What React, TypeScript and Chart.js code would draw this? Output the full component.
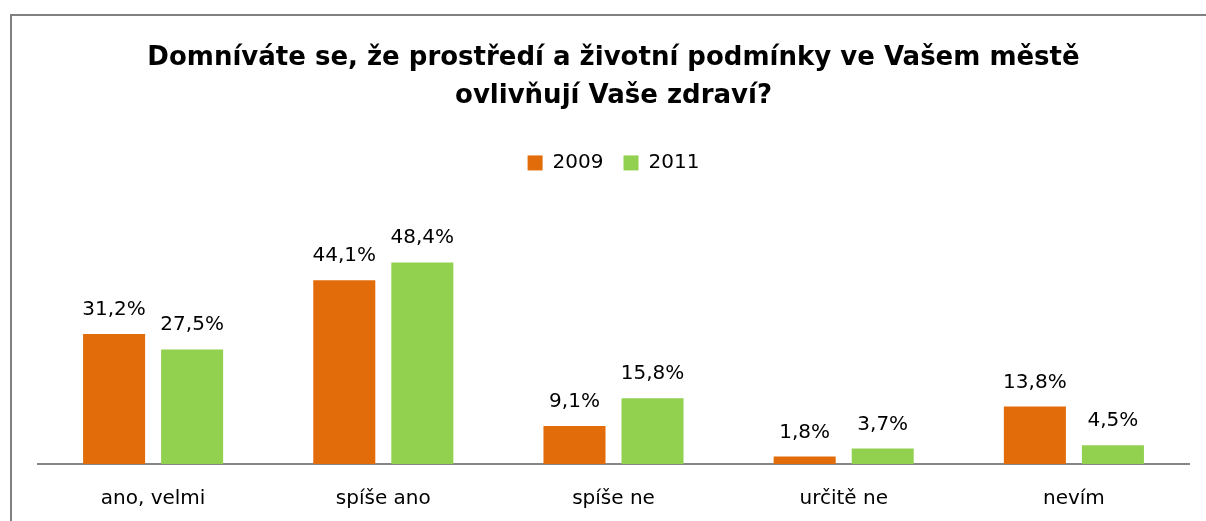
import { useEffect, useRef } from "react";
import { Chart, registerables } from "chart.js";

Chart.register(...registerables);

const categories = ["ano, velmi", "spíše ano", "spíše ne", "určitě ne", "nevím"];
const seriesNames = ["2009", "2011"];
const values2009 = [31.2, 44.1, 9.1, 1.8, 13.8];
const values2011 = [27.5, 48.4, 15.8, 3.7, 4.5];
const titleLines = [
  "Domníváte se, že prostředí a životní podmínky ve Vašem městě",
  "ovlivňují Vaše zdraví?",
];
const colors = ["#E36C0A", "#92D050"];

const FONT = "'DejaVu Sans', sans-serif";

const dataLabelPlugin = {
  id: "dataLabels",
  afterDatasetsDraw(chart: any) {
    const ctx = chart.ctx;
    ctx.save();
    ctx.font = `20px ${FONT}`;
    ctx.fillStyle = "#000000";
    ctx.textAlign = "center";
    ctx.textBaseline = "alphabetic";
    chart.data.datasets.forEach((ds: any, i: number) => {
      const meta = chart.getDatasetMeta(i);
      meta.data.forEach((bar: any, j: number) => {
        const v = ds.data[j] as number;
        ctx.fillText(v.toFixed(1).replace(".", ",") + "%", bar.x, bar.y - 19);
      });
    });
    ctx.restore();
  },
};

export default function App() {
  const ref = useRef<HTMLCanvasElement>(null);

  useEffect(() => {
    if (!ref.current) return;
    const chart = new Chart(ref.current, {
      type: "bar",
      data: {
        labels: categories,
        datasets: [
          {
            label: seriesNames[0],
            data: values2009,
            backgroundColor: colors[0],
            borderWidth: 0,
            categoryPercentage: 0.678,
            barPercentage: 0.795,
          },
          {
            label: seriesNames[1],
            data: values2011,
            backgroundColor: colors[1],
            borderWidth: 0,
            categoryPercentage: 0.678,
            barPercentage: 0.795,
          },
        ],
      },
      options: {
        responsive: false,
        animation: false,
        layout: { padding: { left: 26, right: 25, top: 0, bottom: 9 } },
        plugins: {
          title: {
            display: true,
            text: titleLines,
            color: "#000000",
            font: { family: FONT, size: 26, weight: "bold", lineHeight: 1.46 },
            padding: { top: 23, bottom: 18 },
          },
          legend: {
            display: true,
            position: "top",
            labels: {
              color: "#000000",
              font: { family: FONT, size: 20 },
              boxWidth: 15,
              boxHeight: 15,
              padding: 20,
            },
          },
          tooltip: { enabled: false },
        },
        scales: {
          x: {
            grid: { display: false, drawTicks: false },
            border: { display: true, color: "#868686", width: 2 },
            ticks: {
              color: "#000000",
              font: { family: FONT, size: 20 },
              padding: 23,
            },
          },
          y: {
            display: false,
            min: 0,
            max: 67.5,
          },
        },
      },
      plugins: [dataLabelPlugin],
    });
    return () => chart.destroy();
  }, []);

  return (
    <div
      style={{
        position: "fixed",
        left: 0,
        top: 0,
        width: 1206,
        height: 521,
        overflow: "hidden",
        background: "#ffffff",
      }}
    >
      <div
        style={{
          position: "absolute",
          left: 10,
          top: 14,
          width: 1202,
          height: 527,
          borderLeft: "2px solid #808080",
          borderTop: "2px solid #808080",
        }}
      >
        <canvas ref={ref} width={1202} height={527} style={{ display: "block", width: 1202, height: 527 }} />
      </div>
    </div>
  );
}
